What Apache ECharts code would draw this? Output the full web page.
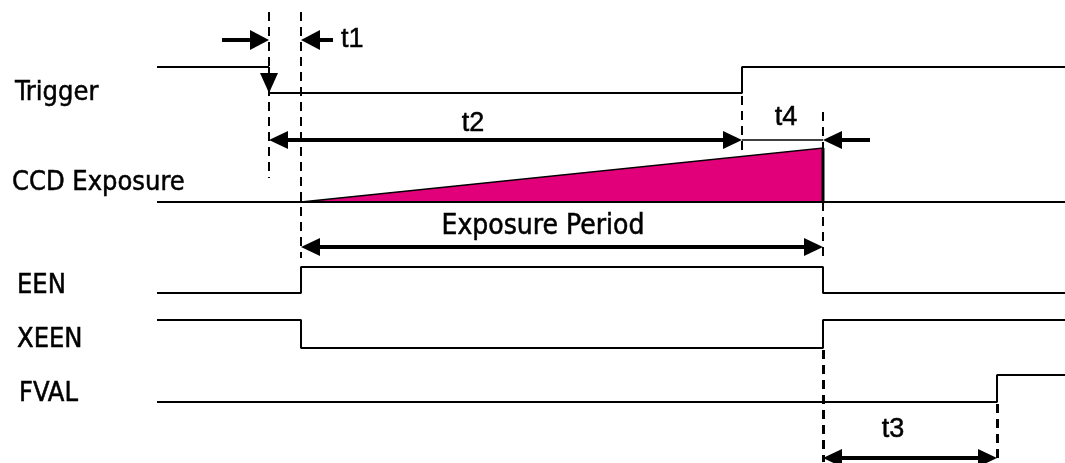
<!DOCTYPE html>
<html><head><meta charset="utf-8">
<script src="https://cdn.jsdelivr.net/npm/echarts@6/dist/echarts.min.js"></script>
<style>html,body{margin:0;padding:0;background:#fff}#c{width:1065px;height:463px}</style>
</head><body><div id="c"></div>
<script>
// ---- data (time in arbitrary units along the diagram, level 0 = low, 1 = high)
const signalNames = ['Trigger', 'CCD Exposure', 'EEN', 'XEEN', 'FVAL'];
const triggerWave = [[157, 1], [269, 1], [269, 0], [742, 0], [742, 1], [1065, 1]];
const exposureBase = [[157, 0], [1065, 0]];
const exposureRamp = [[301, 0], [823, 1], [823, 0]];
const eenWave = [[157, 0], [301, 0], [301, 1], [823, 1], [823, 0], [1065, 0]];
const xeenWave = [[157, 1], [301, 1], [301, 0], [823, 0], [823, 1], [1065, 1]];
const fvalWave = [[157, 0], [997, 0], [997, 1], [1065, 1]];
const t1Span = [269, 301];
const t2Span = [269, 742];
const t4Span = [742, 823];
const exposureSpan = [301, 823];
const t3Span = [823, 997];
const spanLabels = ['t1', 't2', 't4', 'Exposure Period', 't3'];

// ---- layout (rows on the vertical axis)
const lane = {
  'Trigger': {low: 93, high: 67, label: 93},
  'CCD Exposure': {low: 202, high: 148, label: 183},
  'EEN': {low: 293, high: 267, label: 286},
  'XEEN': {low: 348, high: 320, label: 340},
  'FVAL': {low: 402, high: 375, label: 394}
};
const toY = (name) => ([t, l]) => [t, lane[name].low - l * (lane[name].low - lane[name].high)];
const LAB_FONT = '27px "DejaVu Sans Condensed", "DejaVu Sans", sans-serif';
const EXP_FONT = '28px "DejaVu Sans Condensed", "DejaVu Sans", sans-serif';
const T_FONT = '27px "Liberation Sans", Arial, sans-serif';
const MAG = '#E2007A';

function wave(name, data) {
  return {type: 'line', data: data.map(toY(name)), showSymbol: false, silent: true,
    lineStyle: {color: '#000', width: 2}, animation: false, z: 3};
}
// arrows drawn with tips exactly on the end coordinates
function arrows(list) {
  return {type: 'custom', coordinateSystem: 'cartesian2d', animation: false, silent: true, z: 4,
    data: list.map((a, i) => [a.c[0][0], a.c[0][1], i]),
    renderItem: (params, api) => {
      const a = list[params.dataIndex];
      const p0 = api.coord(a.c[0]), p1 = api.coord(a.c[1]);
      const dx = p1[0] - p0[0], dy = p1[1] - p0[1];
      const len = Math.hypot(dx, dy), ux = dx / len, uy = dy / len;
      const L = a.hl || 19, W = a.hw || 9;
      const s = a.s[0] ? L - 2 : 0, e = a.s[1] ? L - 2 : 0;
      const children = [{type: 'line',
        shape: {x1: p0[0] + ux * s, y1: p0[1] + uy * s, x2: p1[0] - ux * e, y2: p1[1] - uy * e},
        style: {stroke: '#000', lineWidth: a.w || 4}}];
      const head = (tip, dirx, diry) => ({type: 'polygon',
        shape: {points: [tip,
          [tip[0] - dirx * L - diry * W, tip[1] - diry * L + dirx * W],
          [tip[0] - dirx * L + diry * W, tip[1] - diry * L - dirx * W]]},
        style: {fill: '#000'}});
      if (a.s[0]) children.push(head(p0, -ux, -uy));
      if (a.s[1]) children.push(head(p1, ux, uy));
      return {type: 'group', children};
    }};
}
function dashes(list, width) {
  return {type: 'lines', coordinateSystem: 'cartesian2d', animation: false, silent: true, z: 2,
    lineStyle: {color: '#000', width: width, type: [9, 6], opacity: 1},
    data: list.map(c => ({coords: c}))};
}
function texts(items) {
  return {type: 'custom', coordinateSystem: 'cartesian2d', animation: false, silent: true, z: 5,
    data: items.map(d => [d.x, d.y]),
    renderItem: (params, api) => {
      const d = items[params.dataIndex];
      const p = api.coord([d.x, d.y]);
      return {type: 'text', x: p[0], y: p[1],
        style: {text: d.text, font: d.font, fill: '#000', stroke: '#000', lineWidth: 0.5,
          align: d.align || 'left', verticalAlign: 'middle'}};
    }};
}

const rampPts = exposureRamp.map(toY('CCD Exposure'));
const trigPts = triggerWave.map(toY('Trigger'));
const yA = 40, yT2 = 140, yExp = 247, yT3 = 458;

const option = {
  animation: false,
  backgroundColor: '#fff',
  grid: {left: 0, right: 0, top: 0, bottom: 0},
  xAxis: {type: 'value', min: 0, max: 1065, show: false},
  yAxis: {type: 'value', min: 0, max: 463, inverse: true, show: false},
  series: [
    // exposure ramp (filled triangle)
    {type: 'custom', coordinateSystem: 'cartesian2d', animation: false, silent: true, z: 1,
      data: [0],
      renderItem: (params, api) => ({type: 'polygon',
        shape: {points: rampPts.map(p => api.coord(p))},
        style: {fill: MAG, stroke: '#000', lineWidth: 1.5}})},
    wave('Trigger', [triggerWave[0], triggerWave[1]]),
    wave('Trigger', triggerWave.slice(2)),
    wave('CCD Exposure', exposureBase),
    wave('EEN', eenWave),
    wave('XEEN', xeenWave),
    wave('FVAL', fvalWave),
    {type: 'line', data: [rampPts[1], rampPts[2]],
      showSymbol: false, silent: true, animation: false, z: 3, lineStyle: {color: '#000', width: 3}},
    // dashed guides
    dashes([
      [[t1Span[0], 12], [t1Span[0], 178]],
      [[t1Span[1], 12], [t1Span[1], 258]],
      [[t2Span[1], 96], [t2Span[1], 155]],
      [[t4Span[1], 112], [t4Span[1], 258]]
    ], 2),
    dashes([
      [[t3Span[0], 350], [t3Span[0], 462]],
      [[t3Span[1], 404], [t3Span[1], 462]]
    ], 3),
    // thin t4 span line
    {type: 'lines', coordinateSystem: 'cartesian2d', animation: false, silent: true, z: 3,
      lineStyle: {color: '#000', width: 1.5, opacity: 1},
      data: [{coords: [[t4Span[0], yT2], [t4Span[1], yT2]]}]},
    arrows([
      {c: [trigPts[1], trigPts[2]], s: [false, true], w: 2, hl: 20, hw: 9},
      {c: [[t1Span[0] - 47, yA], [t1Span[0], yA]], s: [false, true], hw: 10},
      {c: [[t1Span[1] + 32, yA], [t1Span[1], yA]], s: [false, true], hw: 10},
      {c: [[t2Span[0], yT2], [t2Span[1], yT2]], s: [true, true]},
      {c: [[t4Span[1] + 47, yT2], [t4Span[1], yT2]], s: [false, true]},
      {c: [[exposureSpan[0], yExp], [exposureSpan[1], yExp]], s: [true, true]},
      {c: [[t3Span[0], yT3], [t3Span[1], yT3]], s: [true, true]}
    ]),
    // labels
    texts(signalNames.map((n, i) => ({x: [15, 12, 17, 17, 19][i], y: lane[n].label, text: n, font: LAB_FONT}))),
    texts([
      {x: t1Span[1] + 40, y: 40, text: spanLabels[0], font: T_FONT},
      {x: 473, y: 124, text: spanLabels[1], font: T_FONT, align: 'center'},
      {x: 786, y: 118, text: spanLabels[2], font: T_FONT, align: 'center'},
      {x: 543, y: 227, text: spanLabels[3], font: EXP_FONT, align: 'center'},
      {x: 893, y: 430, text: spanLabels[4], font: T_FONT, align: 'center'}
    ])
  ]
};
const chart = echarts.init(document.getElementById('c'), null, {renderer: 'canvas'});
chart.setOption(option);
</script></body></html>
